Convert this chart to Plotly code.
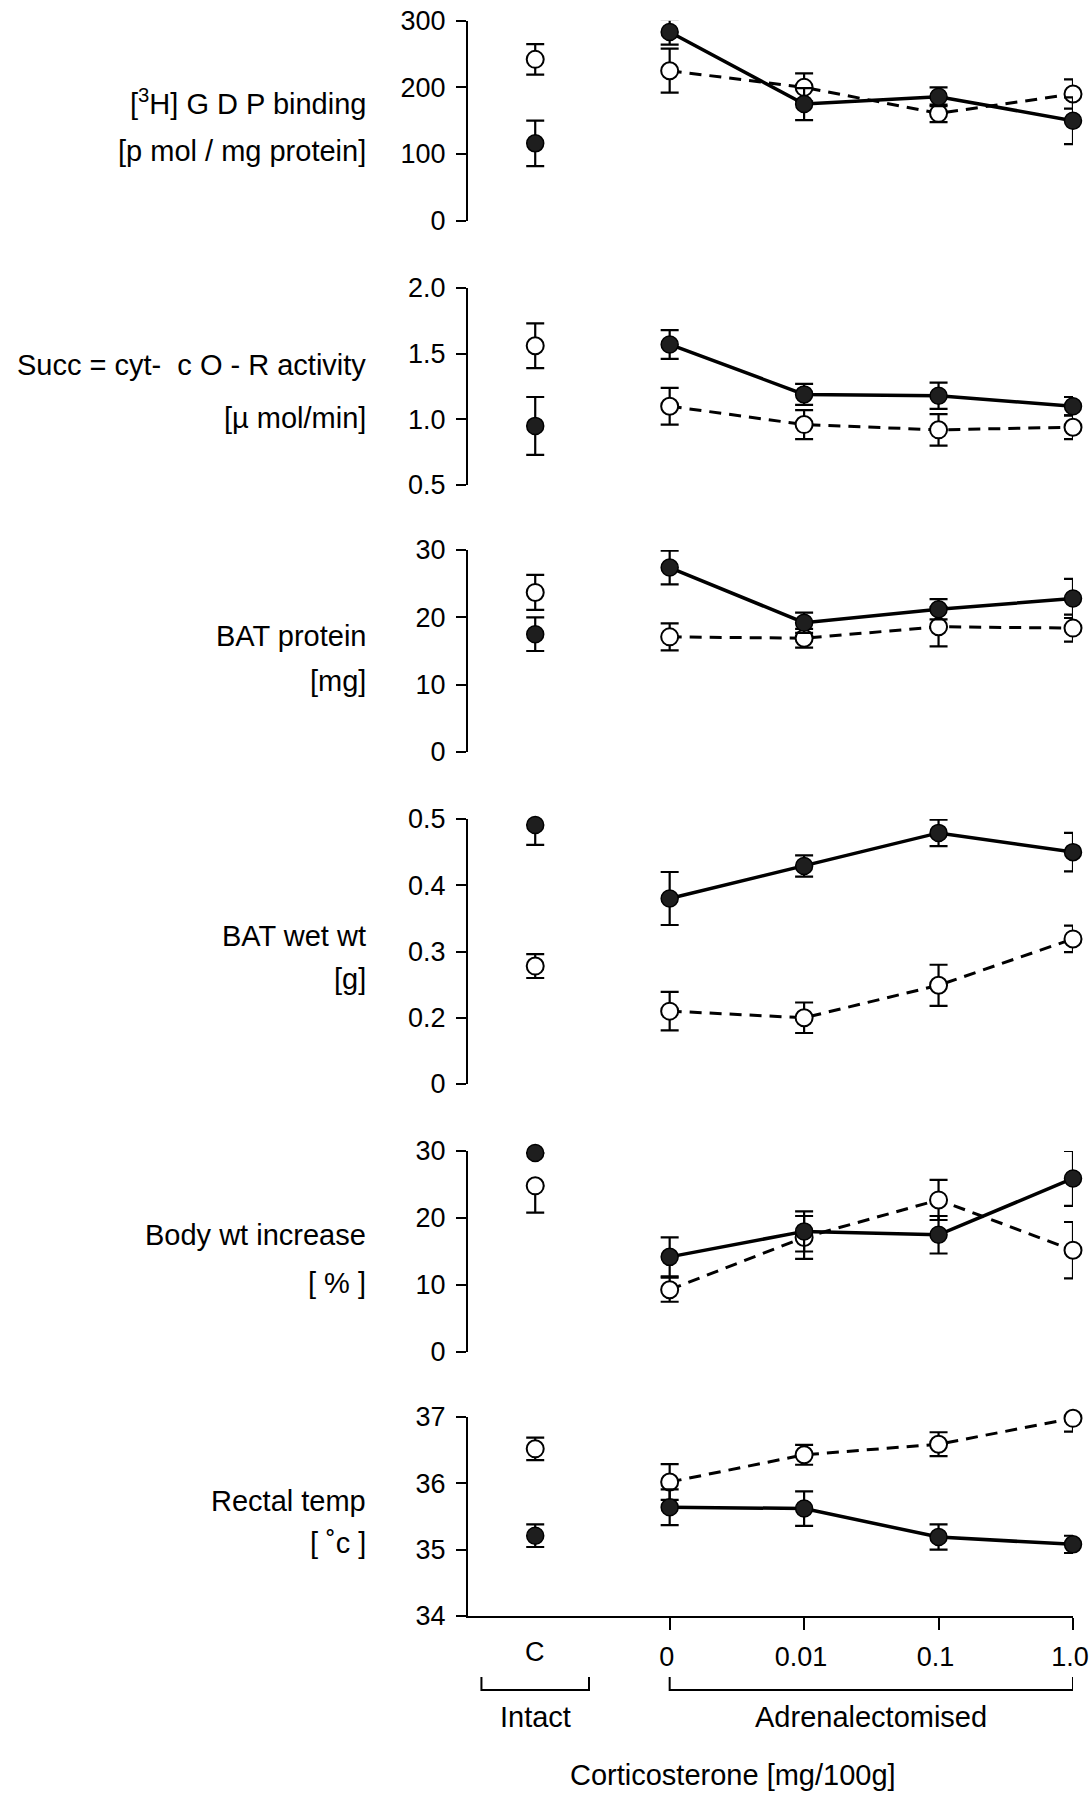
import plotly.graph_objects as go

# ---------------- data ----------------
x_labels = ["C", "0", "0.01", "0.1", "1.0"]
x_pos = [0, 1, 2, 3, 4]

gdp_filled = [116, 283, 175, 186, 150]
gdp_filled_err = [34, 19, 24, 14, 35]
gdp_open = [242, 225, 200, 161, 190]
gdp_open_err = [23, 33, 21, 13, 22]

succ_filled = [0.95, 1.57, 1.19, 1.18, 1.10]
succ_filled_err = [0.22, 0.11, 0.08, 0.10, 0.07]
succ_open = [1.56, 1.10, 0.96, 0.92, 0.94]
succ_open_err = [0.17, 0.14, 0.11, 0.12, 0.09]

prot_filled = [17.5, 27.4, 19.2, 21.2, 22.8]
prot_filled_err = [2.5, 2.5, 1.5, 1.5, 2.9]
prot_open = [23.7, 17.1, 16.9, 18.6, 18.4]
prot_open_err = [2.6, 2.0, 1.4, 2.9, 2.0]

wet_filled = [0.491, 0.38, 0.429, 0.479, 0.45]
wet_filled_err = [0.03, 0.04, 0.016, 0.02, 0.029]
wet_open = [0.278, 0.21, 0.20, 0.249, 0.319]
wet_open_err = [0.018, 0.029, 0.023, 0.031, 0.02]

body_filled = [29.7, 14.2, 18.0, 17.5, 25.9]
body_filled_err_plus = [2.2, 2.9, 3.0, 2.8, 4.1]
body_filled_err_minus = [0, 2.9, 3.0, 2.8, 4.1]
body_open = [24.8, 9.3, 17.1, 22.7, 15.2]
body_open_err_plus = [0, 1.8, 3.2, 3.0, 4.2]
body_open_err_minus = [4.0, 1.8, 3.2, 3.0, 4.2]

temp_filled = [35.21, 35.64, 35.62, 35.19, 35.08]
temp_filled_err = [0.17, 0.27, 0.26, 0.19, 0.13]
temp_open = [36.52, 36.02, 36.43, 36.59, 36.98]
temp_open_err = [0.17, 0.27, 0.15, 0.18, 0.20]

gdp_ticks = [0, 100, 200, 300]
succ_ticks = [0.5, 1.0, 1.5, 2.0]
succ_ticktext = ["0.5", "1.0", "1.5", "2.0"]
prot_ticks = [0, 10, 20, 30]
wet_ticks = [0.1, 0.2, 0.3, 0.4, 0.5]
wet_ticktext = ["0", "0.2", "0.3", "0.4", "0.5"]   # axis break: "0" drawn one step below 0.2
body_ticks = [0, 10, 20, 30]
temp_ticks = [34, 35, 36, 37]

# ---------------- layout constants ----------------
W, H = 1090, 1796
FONT = "Liberation Sans, Arial, Helvetica, sans-serif"
FS = 29        # label / annotation text
TFS = 27       # tick labels
X_LEFT, X_RIGHT = 468, 1073
LABEL_X = 368

panels = [
    dict(f=gdp_filled, fp=gdp_filled_err, fm=gdp_filled_err, o=gdp_open, op=gdp_open_err, om=gdp_open_err,
         rng=[0, 300], tv=gdp_ticks, tt=[str(v) for v in gdp_ticks], top=20.7, bot=220.7,
         lab=["[<sup>3</sup>H] G D P binding", "[p mol / mg protein]"], ly=[102, 151]),
    dict(f=succ_filled, fp=succ_filled_err, fm=succ_filled_err, o=succ_open, op=succ_open_err, om=succ_open_err,
         rng=[0.5, 2.0], tv=succ_ticks, tt=succ_ticktext, top=288, bot=485,
         lab=["Succ = cyt-  c O - R activity", "[\u00b5 mol/min]"], ly=[365, 418]),
    dict(f=prot_filled, fp=prot_filled_err, fm=prot_filled_err, o=prot_open, op=prot_open_err, om=prot_open_err,
         rng=[0, 30], tv=prot_ticks, tt=[str(v) for v in prot_ticks], top=550, bot=752,
         lab=["BAT protein", "[mg]"], ly=[636, 681]),
    dict(f=wet_filled, fp=wet_filled_err, fm=wet_filled_err, o=wet_open, op=wet_open_err, om=wet_open_err,
         rng=[0.1, 0.5], tv=wet_ticks, tt=wet_ticktext, top=819, bot=1084,
         lab=["BAT wet wt", "[g]"], ly=[936, 979]),
    dict(f=body_filled, fp=body_filled_err_plus, fm=body_filled_err_minus, o=body_open, op=body_open_err_plus,
         om=body_open_err_minus, rng=[0, 30], tv=body_ticks, tt=[str(v) for v in body_ticks], top=1151, bot=1352,
         lab=["Body wt increase", "[ % ]"], ly=[1235, 1283]),
    dict(f=temp_filled, fp=temp_filled_err, fm=temp_filled_err, o=temp_open, op=temp_open_err, om=temp_open_err,
         rng=[34, 37], tv=temp_ticks, tt=[str(v) for v in temp_ticks], top=1417, bot=1616,
         lab=["Rectal temp", "[ \u02dac ]"], ly=[1501, 1543]),
]

FILL = "#1e1e1e"
MSIZE = 17
ERRW = 2.2
CAP = 9


def err(p, m):
    return dict(type="data", symmetric=False, array=p, arrayminus=m,
                color="black", thickness=ERRW, width=CAP)


fig = go.Figure()
annotations = []
layout = {}

for i, p in enumerate(panels, start=1):
    xa = "x" if i == 1 else f"x{i}"
    ya = "y" if i == 1 else f"y{i}"
    # intact (C) points - unconnected
    fig.add_trace(go.Scatter(x=x_pos[:1], y=p["o"][:1], mode="markers", xaxis=xa, yaxis=ya,
                             marker=dict(size=MSIZE, color="white", line=dict(color="black", width=2)),
                             error_y=err(p["op"][:1], p["om"][:1]), cliponaxis=False, showlegend=False))
    fig.add_trace(go.Scatter(x=x_pos[:1], y=p["f"][:1], mode="markers", xaxis=xa, yaxis=ya,
                             marker=dict(size=MSIZE, color=FILL, line=dict(color="black", width=1.5)),
                             error_y=err(p["fp"][:1], p["fm"][:1]), cliponaxis=False, showlegend=False))
    # adrenalectomised series
    fig.add_trace(go.Scatter(x=x_pos[1:], y=p["o"][1:], mode="lines+markers", xaxis=xa, yaxis=ya,
                             line=dict(color="black", width=3, dash="12px,8px"),
                             marker=dict(size=MSIZE, color="white", line=dict(color="black", width=2)),
                             error_y=err(p["op"][1:], p["om"][1:]), cliponaxis=False, showlegend=False))
    fig.add_trace(go.Scatter(x=x_pos[1:], y=p["f"][1:], mode="lines+markers", xaxis=xa, yaxis=ya,
                             line=dict(color="black", width=3.5),
                             marker=dict(size=MSIZE, color=FILL, line=dict(color="black", width=1.5)),
                             error_y=err(p["fp"][1:], p["fm"][1:]), cliponaxis=False, showlegend=False))

    xkey = "xaxis" if i == 1 else f"xaxis{i}"
    ykey = "yaxis" if i == 1 else f"yaxis{i}"
    last = i == len(panels)
    layout[xkey] = dict(domain=[X_LEFT / W, X_RIGHT / W], anchor=ya, range=[-0.5, 4],
                        visible=last, showgrid=False, zeroline=False, automargin=False,
                        showline=last, linecolor="black", linewidth=2,
                        ticks="outside" if last else "", ticklen=12, tickwidth=2, tickcolor="black",
                        tickvals=x_pos[1:], ticktext=x_labels[1:],
                        ticklabelshift=-3, ticklabelstandoff=4, ticklabeloverflow="allow",
                        tickfont=dict(family=FONT, size=TFS, color="black"))
    layout[ykey] = dict(domain=[1 - p["bot"] / H, 1 - p["top"] / H], anchor=xa, range=p["rng"],
                        showgrid=False, zeroline=False, showline=True, linecolor="black", linewidth=2,
                        automargin=False,
                        ticks="outside", ticklen=10, tickwidth=2, tickcolor="black",
                        tickvals=p["tv"], ticktext=p["tt"], ticklabelstandoff=5,
                        ticklabeloverflow="allow",
                        tickfont=dict(family=FONT, size=TFS, color="black"))
    for text, yc in zip(p["lab"], p["ly"]):
        annotations.append(dict(text=text, x=LABEL_X / W, y=1 - yc / H, xref="paper", yref="paper",
                                xanchor="right", yanchor="middle", showarrow=False,
                                font=dict(family=FONT, size=FS, color="black")))

# bottom texts
annotations.append(dict(text=x_labels[0], x=x_pos[0], y=1 - 1652 / H, xref="x6", yref="paper",
                        xanchor="center", yanchor="middle", showarrow=False,
                        font=dict(family=FONT, size=TFS, color="black")))
annotations.append(dict(text="Intact", x=x_pos[0], y=1 - 1717 / H, xref="x6", yref="paper",
                        xanchor="center", yanchor="middle", showarrow=False,
                        font=dict(family=FONT, size=FS, color="black")))
annotations.append(dict(text="Adrenalectomised", x=(x_pos[1] + x_pos[4]) / 2, y=1 - 1717 / H, xref="x6",
                        yref="paper", xanchor="center", yanchor="middle", showarrow=False,
                        font=dict(family=FONT, size=FS, color="black")))
annotations.append(dict(text="Corticosterone [mg/100g]", x=733 / W, y=1 - 1775 / H, xref="paper", yref="paper",
                        xanchor="center", yanchor="middle", showarrow=False,
                        font=dict(family=FONT, size=FS, color="black")))

yb, yt = 1 - 1690 / H, 1 - 1677 / H
shapes = []
for x0, x1 in [(x_pos[0] - 0.4, x_pos[0] + 0.4), (x_pos[1], x_pos[4])]:
    shapes.append(dict(type="path", xref="x6", yref="paper",
                       path=f"M {x0} {yt} L {x0} {yb} L {x1} {yb} L {x1} {yt}",
                       line=dict(color="black", width=2)))

fig.update_layout(width=W, height=H, margin=dict(l=0, r=0, t=0, b=0, autoexpand=False),
                  paper_bgcolor="white", plot_bgcolor="white",
                  annotations=annotations, shapes=shapes, showlegend=False, **layout)

fig.write_html("out.html")
